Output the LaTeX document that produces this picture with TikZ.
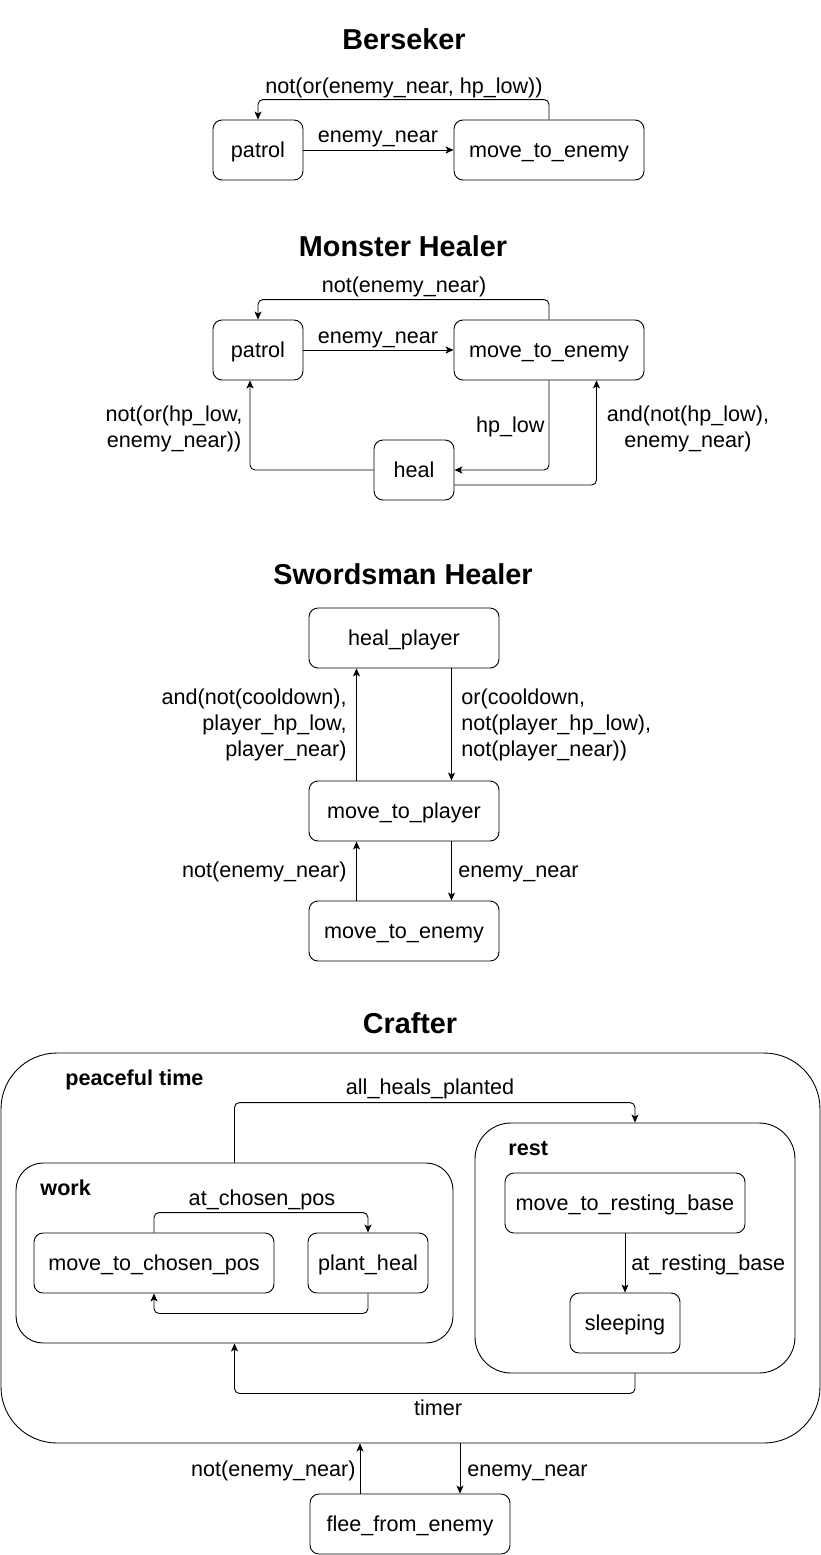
\documentclass[tikz,border=0pt]{standalone}
\usepackage{fontspec}
\setmainfont{Liberation Sans}
\usetikzlibrary{arrows.meta,positioning}

\begin{document}
\begin{tikzpicture}[x=1pt, y=-1pt, line width=0.9pt, >={Stealth[length=8pt,width=7pt,inset=2pt]}]
\tikzstyle{state} = [draw, rounded corners=9pt, minimum height=60pt, inner sep=0pt, font=\fontsize{21.6}{26}\selectfont, text height=19.7pt, text depth=4.5pt]
\tikzstyle{grp} = [draw, inner sep=0pt]
\tikzstyle{lbl} = [inner sep=0pt, font=\fontsize{21.6}{26}\selectfont]
\tikzstyle{glbl} = [inner sep=0pt, anchor=base west, font=\fontsize{21.6}{26}\selectfont\bfseries]
\tikzstyle{ttl} = [inner sep=0pt, anchor=base, font=\fontsize{28.8}{34}\selectfont\bfseries]
\tikzstyle{edge} = [->, rounded corners=5pt]
\useasboundingbox (0,0) rectangle (821,1555);

\node[ttl] (bt) at (404,50) {Berseker};
\node[state, minimum width=90pt] (bp) at (258,150) {patrol};
\node[state, minimum width=190pt] (bm) at (549,150) {move\_to\_enemy};
\draw[edge] (bp) -- (bm);
\draw[edge] (bm.north) -- ++(0,-20) -| (bp.north);
\node[lbl, anchor=base] (bl1) at (378,142) {enemy\_near};
\node[lbl, anchor=base] (bl2) at (404,93) {not(or(enemy\_near, hp\_low))};

\node[ttl] (mt) at (403,256) {Monster Healer};
\node[state, minimum width=90pt] (mp) at (258,350) {patrol};
\node[state, minimum width=190pt] (mm) at (549,350) {move\_to\_enemy};
\node[state, minimum width=80pt] (mh) at (414,470) {heal};
\draw[edge] (mp) -- (mm);
\draw[edge] (mm.north) -- ++(0,-20) -| (mp.north);
\draw[edge] (mm.south) |- (mh.east);
\draw[edge] ([yshift=-15pt]mh.east) -| ([xshift=47.5pt]mm.south);
\draw[edge] (mh.west) -| ([xshift=-8pt]mp.south);
\node[lbl, anchor=base] (ml1) at (378,343) {enemy\_near};
\node[lbl, anchor=base] (ml2) at (404,292) {not(enemy\_near)};
\node[lbl, anchor=base east] (ml3) at (545,432) {hp\_low};
\node[lbl, anchor=base, align=center] (ml4) at (688,447) {and(not(hp\_low),\\enemy\_near)};
\node[lbl, anchor=base, align=center] (ml5) at (174,447) {not(or(hp\_low,\\enemy\_near))};

\node[ttl] (st) at (403,584) {Swordsman Healer};
\node[state, minimum width=190pt] (shp) at (404,638) {heal\_player};
\node[state, minimum width=190pt] (smp) at (404,811) {move\_to\_player};
\node[state, minimum width=190pt] (sme) at (404,931) {move\_to\_enemy};
\draw[edge] ([xshift=-47.5pt]smp.north) -- ([xshift=-47.5pt]shp.south);
\draw[edge] ([xshift=47.5pt]shp.south) -- ([xshift=47.5pt]smp.north);
\draw[edge] ([xshift=-47.5pt]sme.north) -- ([xshift=-47.5pt]smp.south);
\draw[edge] ([xshift=47.5pt]smp.south) -- ([xshift=47.5pt]sme.north);
\node[lbl, anchor=base east, align=right] (sl1) at (347,756) {and(not(cooldown),\\player\_hp\_low,\\player\_near)};
\node[lbl, anchor=base west, align=left] (sl2) at (461,756) {or(cooldown,\\not(player\_hp\_low),\\not(player\_near))};
\node[lbl, anchor=base east] (sl3) at (347,877) {not(enemy\_near)};
\node[lbl, anchor=base west] (sl4) at (458,877) {enemy\_near};

\node[ttl] (ct) at (410,1033) {Crafter};
\node[grp, rounded corners=56pt, minimum width=819pt, minimum height=390pt] (peace) at (410.5,1248) {};
\node[grp, rounded corners=27pt, minimum width=437pt, minimum height=180pt] (work) at (234.5,1253) {};
\node[grp, rounded corners=36pt, minimum width=320pt, minimum height=250pt] (rest) at (635,1248) {};
\node[glbl] (cg1) at (65,1085) {peaceful time};
\node[glbl] (cg2) at (40,1195) {work};
\node[glbl] (cg3) at (508,1155) {rest};
\node[state, minimum width=240pt] (cmc) at (154,1263) {move\_to\_chosen\_pos};
\node[state, minimum width=120pt] (cph) at (368,1263) {plant\_heal};
\node[state, minimum width=240pt] (cmr) at (625,1203) {move\_to\_resting\_base};
\node[state, minimum width=110pt] (csl) at (625,1323) {sleeping};
\node[state, minimum width=200pt] (cfl) at (410,1524) {flee\_from\_enemy};
\draw[edge] (cmc.north) -- ++(0,-20) -| (cph.north);
\draw[edge] (cph.south) -- ++(0,20) -| (cmc.south);
\draw[edge] (work.north) -- ++(0,-60) -| (rest.north);
\draw[edge] (cmr) -- (csl);
\draw[edge] (rest.south) -- ++(0,20) -| (work.south);
\draw[edge] ([xshift=-50pt]cfl.north) -- ([xshift=-50pt]cfl.north |- peace.south);
\draw[edge] ([xshift=50pt]cfl.north |- peace.south) -- ([xshift=50pt]cfl.north);
\node[lbl, anchor=base] (cl1) at (262,1205) {at\_chosen\_pos};
\node[lbl, anchor=base] (cl2) at (430,1094) {all\_heals\_planted};
\node[lbl, anchor=base west] (cl3) at (631,1270) {at\_resting\_base};
\node[lbl, anchor=base] (cl4) at (438,1415) {timer};
\node[lbl, anchor=base east] (cl5) at (356,1476) {not(enemy\_near)};
\node[lbl, anchor=base west] (cl6) at (467,1476) {enemy\_near};
\end{tikzpicture}
\end{document}
